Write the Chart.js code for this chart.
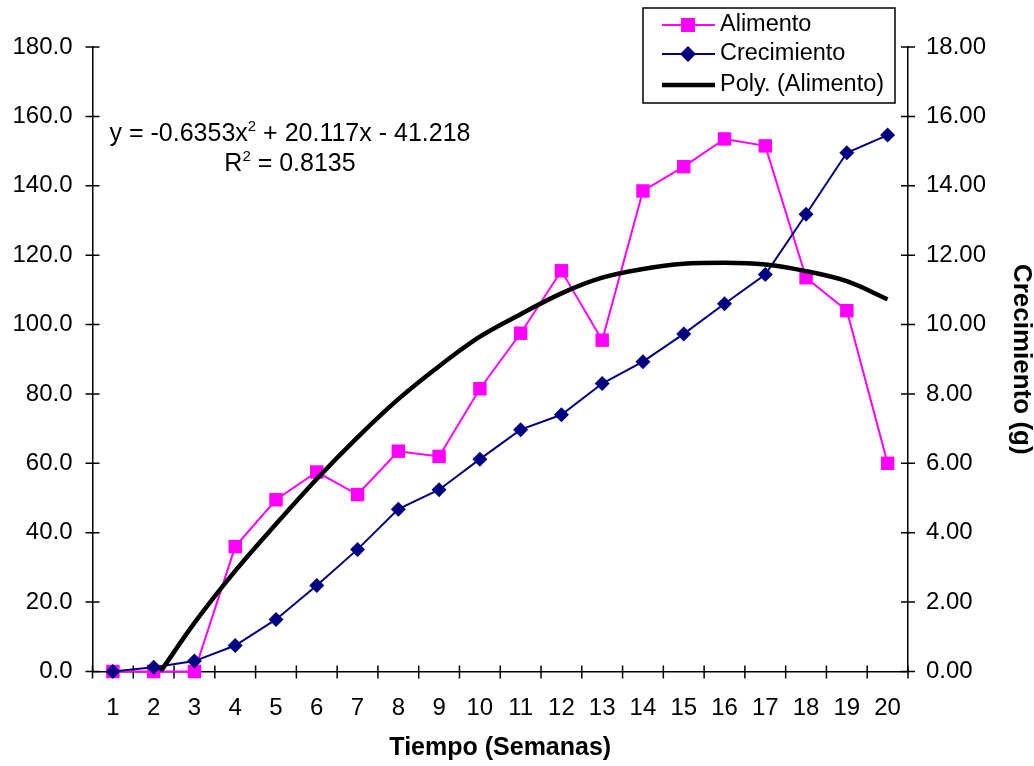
<!DOCTYPE html>
<html>
<head>
<meta charset="utf-8">
<script src="https://cdn.jsdelivr.net/npm/chart.js@4.4.1/dist/chart.umd.min.js"></script>
<style>
  html, body { margin: 0; padding: 0; background: #fff; }
  #wrap { width: 1034px; height: 766px; }
</style>
</head>
<body>
<div id="wrap"><canvas id="c" width="1034" height="766"></canvas></div>
<script>
const semanas = [1, 2, 3, 4, 5, 6, 7, 8, 9, 10, 11, 12, 13, 14, 15, 16, 17, 18, 19, 20];
const alimento = [0, 0, 0, 36, 49.5, 57.5, 51, 63.5, 62, 81.5, 97.5, 115.5, 95.5, 138.5, 145.5, 153.5, 151.5, 113.5, 104, 60];
const crecimiento = [0, 0.12, 0.3, 0.75, 1.5, 2.48, 3.52, 4.68, 5.24, 6.12, 6.97, 7.4, 8.3, 8.93, 9.73, 10.6, 11.44, 13.18, 14.95, 15.46];
// trend line
const polyX = [2.17, 3, 4, 5, 6, 7, 8, 9, 10, 11, 12, 13, 14, 15, 16, 17, 18, 19, 20];
const polyY = [0, 14, 29, 42.5, 55.5, 67.5, 78.5, 88, 96.5, 103, 109, 113.5, 116, 117.5, 117.8, 117.3, 115.4, 112.5, 107.3];
const leftTicks = [0, 20, 40, 60, 80, 100, 120, 140, 160, 180];
const rightTicks = [0, 2, 4, 6, 8, 10, 12, 14, 16, 18];
const halfTicks = [0.5, 1.5, 2.5, 3.5, 4.5, 5.5, 6.5, 7.5, 8.5, 9.5, 10.5, 11.5, 12.5, 13.5, 14.5, 15.5, 16.5, 17.5, 18.5, 19.5, 20.5];

const FONT = 'Liberation Sans, Arial, sans-serif';
const MAGENTA = '#FF00FF';
const NAVY = '#000080';

// tick marks crossing the axes, Excel style
const crossTicks = {
    id: 'crossTicks',
    beforeDatasetsDraw(chart) {
        const { ctx, scales: { x, y, y1 } } = chart;
        ctx.save();
        ctx.strokeStyle = '#000';
        ctx.lineWidth = 1.5;
        ctx.beginPath();
        leftTicks.forEach(v => {
            const py = y.getPixelForValue(v);
            ctx.moveTo(x.left - 7, py); ctx.lineTo(x.left + 7, py);
        });
        rightTicks.forEach(v => {
            const py = y1.getPixelForValue(v);
            ctx.moveTo(x.right - 7, py); ctx.lineTo(x.right + 7, py);
        });
        halfTicks.forEach(v => {
            const px = x.getPixelForValue(v);
            ctx.moveTo(px, y.bottom - 6); ctx.lineTo(px, y.bottom + 7);
        });
        ctx.stroke();
        ctx.restore();
    }
};

// legend box + trend equation
const overlay = {
    id: 'overlay',
    afterDraw(chart) {
        const ctx = chart.ctx;
        ctx.save();
        // legend
        ctx.fillStyle = '#fff';
        ctx.fillRect(643, 8, 252, 95);
        ctx.strokeStyle = '#000';
        ctx.lineWidth = 1.5;
        ctx.strokeRect(643, 8, 252, 95);
        const rows = [
            { label: 'Alimento', color: MAGENTA, y: 25, w: 2, marker: 'rect' },
            { label: 'Crecimiento', color: NAVY, y: 54, w: 2, marker: 'diamond' },
            { label: 'Poly. (Alimento)', color: '#000', y: 85, w: 4.5, marker: null }
        ];
        rows.forEach(r => {
            ctx.strokeStyle = r.color;
            ctx.lineWidth = r.w;
            ctx.beginPath();
            ctx.moveTo(662, r.y); ctx.lineTo(715, r.y);
            ctx.stroke();
            ctx.fillStyle = r.color;
            if (r.marker === 'rect') {
                ctx.fillRect(688 - 7, r.y - 7, 14, 14);
            } else if (r.marker === 'diamond') {
                ctx.beginPath();
                ctx.moveTo(688, r.y - 8); ctx.lineTo(696, r.y); ctx.lineTo(688, r.y + 8); ctx.lineTo(680, r.y);
                ctx.closePath(); ctx.fill();
            }
            ctx.fillStyle = '#000';
            ctx.font = '23.5px ' + FONT;
            ctx.textAlign = 'left';
            ctx.textBaseline = 'middle';
            ctx.fillText(r.label, 720, r.y);
        });

        // equation
        const cx = 290;
        ctx.fillStyle = '#000';
        ctx.textBaseline = 'alphabetic';
        const big = '25px ' + FONT, small = '15px ' + FONT;
        const a = 'y = -0.6353x', b = ' + 20.117x - 41.218';
        ctx.font = big;
        const wa = ctx.measureText(a).width, wb = ctx.measureText(b).width;
        ctx.font = small;
        const ws = ctx.measureText('2').width;
        let sx = cx - (wa + ws + wb) / 2;
        const by1 = 141;
        ctx.textAlign = 'left';
        ctx.font = big; ctx.fillText(a, sx, by1);
        ctx.font = small; ctx.fillText('2', sx + wa, by1 - 10);
        ctx.font = big; ctx.fillText(b, sx + wa + ws, by1);

        const c = 'R', d = ' = 0.8135';
        ctx.font = big;
        const wc = ctx.measureText(c).width, wd = ctx.measureText(d).width;
        sx = cx - (wc + ws + wd) / 2;
        const by2 = 171;
        ctx.fillText(c, sx, by2);
        ctx.font = small; ctx.fillText('2', sx + wc, by2 - 10);
        ctx.font = big; ctx.fillText(d, sx + wc + ws, by2);
        ctx.restore();
    }
};

new Chart(document.getElementById('c'), {
    type: 'line',
    data: {
        datasets: [
            {
                label: 'Poly. (Alimento)',
                data: polyX.map((v, i) => ({ x: v, y: polyY[i] })),
                yAxisID: 'y',
                borderColor: '#000',
                borderWidth: 4.5,
                pointRadius: 0,
                cubicInterpolationMode: 'monotone',
                order: 0
            },
            {
                label: 'Alimento',
                data: semanas.map((v, i) => ({ x: v, y: alimento[i] })),
                yAxisID: 'y',
                borderColor: MAGENTA,
                backgroundColor: MAGENTA,
                borderWidth: 2,
                pointStyle: 'rect',
                pointRadius: 9.5,
                pointBorderWidth: 0,
                clip: false,
                order: 2
            },
            {
                label: 'Crecimiento',
                data: semanas.map((v, i) => ({ x: v, y: crecimiento[i] })),
                yAxisID: 'y1',
                borderColor: NAVY,
                backgroundColor: NAVY,
                borderWidth: 2,
                pointStyle: 'rectRot',
                pointRadius: 7.5,
                pointBorderWidth: 0,
                clip: false,
                order: 1
            }
        ]
    },
    options: {
        responsive: false,
        animation: false,
        devicePixelRatio: 1,
        layout: { padding: { top: 47 } },
        plugins: {
            legend: { display: false },
            tooltip: { enabled: false }
        },
        scales: {
            x: {
                type: 'linear',
                min: 0.5,
                max: 20.5,
                afterBuildTicks: s => { s.ticks = semanas.map(v => ({ value: v })); },
                afterFit: s => { s.height = 94.5; },
                grid: { display: false, drawTicks: false },
                border: { display: true, color: '#000', width: 1.5 },
                ticks: { color: '#000', font: { family: FONT, size: 24 }, padding: 22, autoSkip: false, maxRotation: 0 },
                title: { display: true, text: 'Tiempo (Semanas)', color: '#000', font: { family: FONT, size: 25, weight: 'bold', lineHeight: 1.2 }, padding: { top: 4, bottom: 3 } }
            },
            y: {
                position: 'left',
                min: 0,
                max: 180,
                afterBuildTicks: s => { s.ticks = leftTicks.map(v => ({ value: v })); },
                afterFit: s => { s.width = 92.5; },
                grid: { display: false, drawTicks: false },
                border: { display: true, color: '#000', width: 1.5 },
                ticks: { color: '#000', font: { family: FONT, size: 24 }, padding: 20, callback: v => v.toFixed(1) }
            },
            y1: {
                position: 'right',
                min: 0,
                max: 18,
                afterBuildTicks: s => { s.ticks = rightTicks.map(v => ({ value: v })); },
                afterFit: s => { s.width = 126; },
                grid: { display: false, drawTicks: false },
                border: { display: true, color: '#000', width: 1.5 },
                ticks: { color: '#000', font: { family: FONT, size: 24 }, padding: 18, callback: v => v.toFixed(2) },
                title: { display: true, text: 'Crecimiento (g)', color: '#000', font: { family: FONT, size: 26, weight: 'bold', lineHeight: 1 }, padding: { top: 0, bottom: 0 } }
            }
        }
    },
    plugins: [crossTicks, overlay]
});
</script>
</body>
</html>
